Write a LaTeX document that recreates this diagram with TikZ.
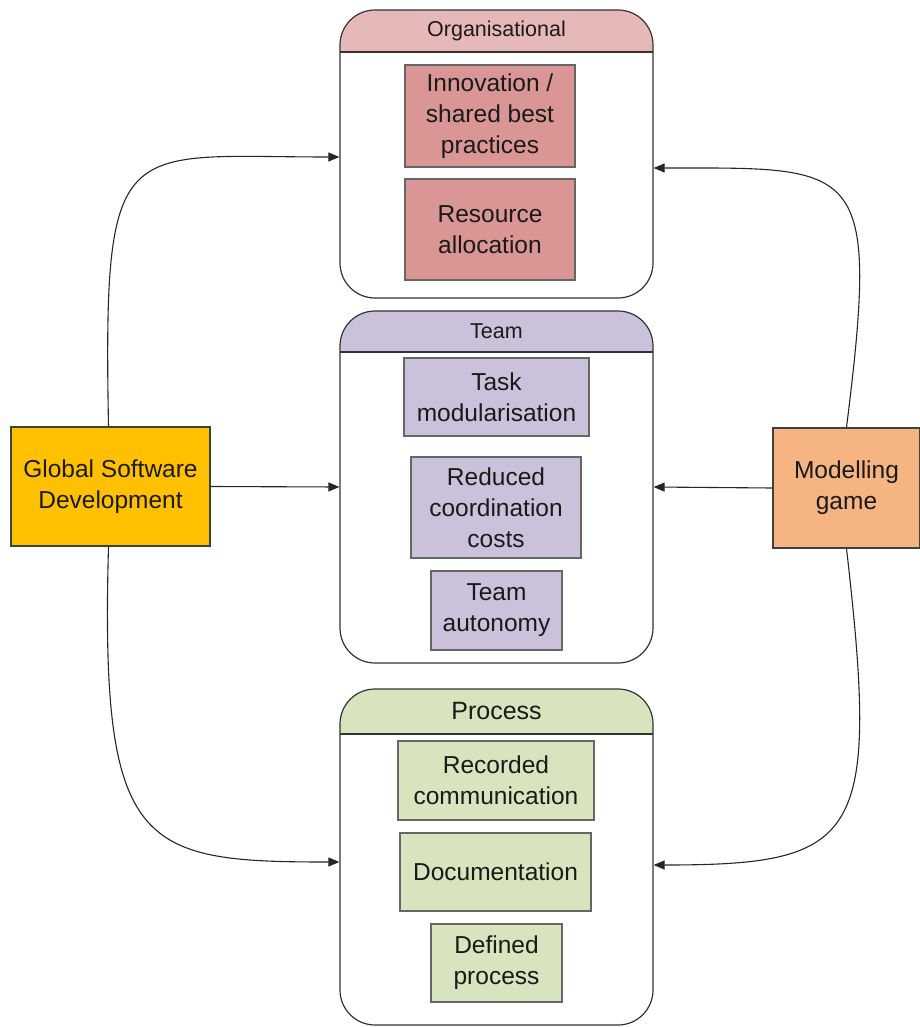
\documentclass[tikz,border=0pt]{standalone}
\usepackage{fontspec}
\setmainfont{Liberation Sans}
\usetikzlibrary{arrows.meta}

\definecolor{orghead}{HTML}{E6B9B8}
\definecolor{orgbox}{HTML}{D99694}
\definecolor{teamhead}{HTML}{CCC1DA}
\definecolor{teambox}{HTML}{CCC1DA}
\definecolor{prochead}{HTML}{D7E4BD}
\definecolor{procbox}{HTML}{D7E4BD}
\definecolor{gsdfill}{HTML}{FFC000}
\definecolor{mgfill}{HTML}{F6B483}
\definecolor{ink}{HTML}{1A1A1A}

\tikzset{
  container/.style={draw=black!80, line width=1.2pt, rounded corners=35pt,
    minimum width=313pt, inner sep=0pt, fill=white},
  hdr/.style 2 args={path picture={
      \fill[#1, sharp corners] (path picture bounding box.north west) rectangle
        ([yshift=-#2]path picture bounding box.north east);
      \draw[line width=1.2pt, black!80, sharp corners]
        ([yshift=-#2]path picture bounding box.north west) --
        ([yshift=-#2]path picture bounding box.north east);}},
  hdrlabel/.style={text=ink, inner sep=0pt},
  itembox/.style={draw=black!60, line width=1.3pt, align=center, inner sep=0pt,
    text=ink, font=\fontsize{24.5}{31}\selectfont},
  sidebox/.style={draw=black!75, line width=1.3pt, align=center, inner sep=0pt,
    text=ink, font=\fontsize{24.5}{31}\selectfont},
  link/.style={draw=black!85, line width=1.1pt,
    -{Triangle[length=11pt,width=9pt]}},
}

\begin{document}
\begin{tikzpicture}[x=1pt,y=-1pt]
\useasboundingbox (0,0) rectangle (920,1027);

% layer containers
\node[container, minimum height=288pt, hdr={orghead}{42pt}] (org) at (496.5,154) {};
\node[container, minimum height=352pt, hdr={teamhead}{41pt}] (team) at (496.5,487) {};
\node[container, minimum height=336pt, hdr={prochead}{45pt}] (proc) at (496.5,857) {};

\node[hdrlabel, font=\fontsize{21.5}{26}\selectfont] (orgt) at (496.5,31) {Organisational};
\node[hdrlabel, font=\fontsize{21.5}{26}\selectfont] (teamt) at (496.5,331) {Team};
\node[hdrlabel, font=\fontsize{25}{30}\selectfont] (proct) at (496.5,711) {Process};

% organisational items
\node[itembox, fill=orgbox, minimum width=170pt, minimum height=102pt] (innov) at (490,116)
  {Innovation /\\shared best\\practices};
\node[itembox, fill=orgbox, minimum width=170pt, minimum height=101pt] (res) at (490,229.5)
  {Resource\\allocation};

% team items
\node[itembox, fill=teambox, minimum width=185pt, minimum height=78pt] (task) at (496.5,397)
  {Task\\modularisation};
\node[itembox, fill=teambox, minimum width=170pt, minimum height=101pt] (coord) at (496,507.5)
  {Reduced\\coordination\\costs};
\node[itembox, fill=teambox, minimum width=131pt, minimum height=79pt] (auto) at (496.5,610.5)
  {Team\\autonomy};

% process items
\node[itembox, fill=procbox, minimum width=196pt, minimum height=79pt] (rec) at (496,780.5)
  {Recorded\\communication};
\node[itembox, fill=procbox, minimum width=191pt, minimum height=78pt] (doc) at (495.5,872)
  {Documentation};
\node[itembox, fill=procbox, minimum width=131pt, minimum height=78pt] (def) at (496.5,963)
  {Defined\\process};

% drivers
\node[sidebox, fill=gsdfill, minimum width=199pt, minimum height=119pt] (gsd) at (110.5,486.5)
  {Global Software\\Development};
\node[sidebox, fill=mgfill, minimum width=147pt, minimum height=120pt] (mg) at (846.5,488)
  {Modelling\\game};

% connectors
\draw[link] (gsd.east) -- (team.west);
\draw[link] (mg.west) -- (team.east);
\draw[link] ([xshift=-2pt]gsd.north) .. controls (103,130) and (120,157) .. ([yshift=-3pt]org.west);
\draw[link] ([xshift=-2pt]gsd.south) .. controls (100,850) and (140,862) .. ([yshift=-5pt]proc.west);
\draw[link] (mg.north) .. controls (880,160) and (860,168) .. ([yshift=-14pt]org.east);
\draw[link] (mg.south) .. controls (880,840) and (860,865) .. ([yshift=-8pt]proc.east);
\end{tikzpicture}
\end{document}
